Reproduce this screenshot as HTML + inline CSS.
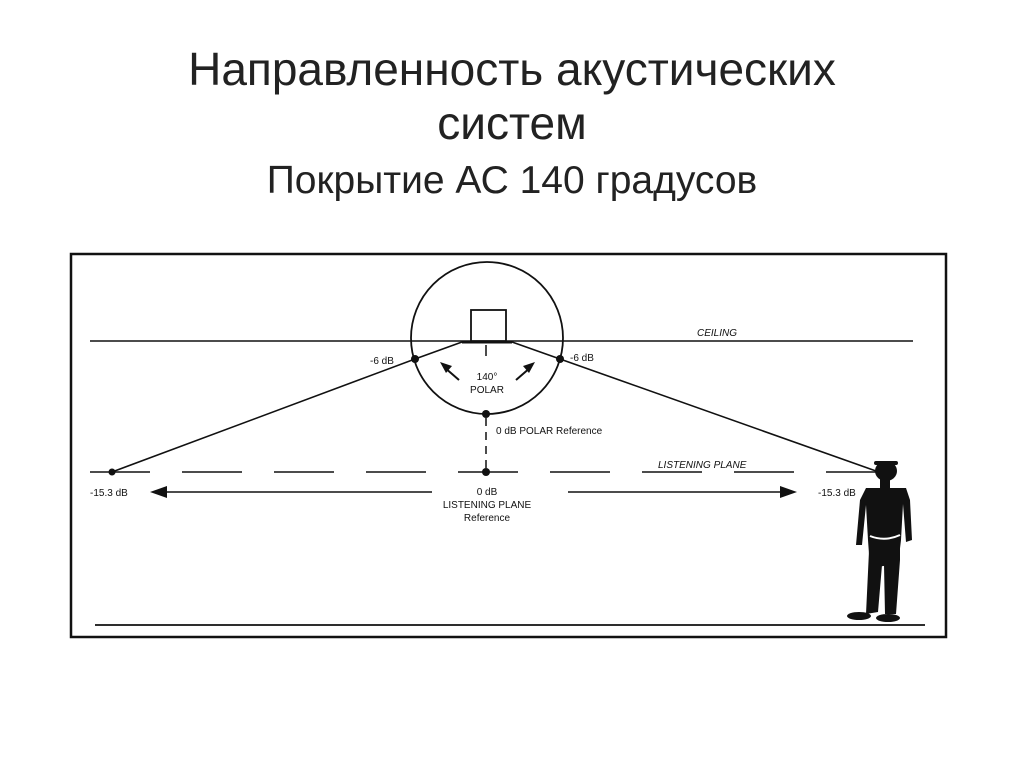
<!DOCTYPE html>
<html><head><meta charset="utf-8"><style>
body{margin:0;background:#fff;width:1024px;height:767px;overflow:hidden;font-family:"Liberation Sans",sans-serif}
.t{position:absolute;width:1024px;text-align:center;color:#222;line-height:1}
</style></head><body>
<div class="t" style="top:46px;font-size:46px;">Направленность акустических</div>
<div class="t" style="top:100px;font-size:46px;">систем</div>
<div class="t" style="top:161px;font-size:39px;">Покрытие АС 140 градусов</div>
<svg width="1024" height="767" style="position:absolute;left:0;top:0" font-family="Liberation Sans, sans-serif">
<rect x="71" y="254" width="875" height="383" fill="none" stroke="#111" stroke-width="2.5"/>
<line x1="90" y1="341" x2="913" y2="341" stroke="#111" stroke-width="1.5"/>
<text x="697" y="336" font-size="10" font-style="italic" fill="#111">CEILING</text>
<circle cx="487" cy="338" r="76" fill="none" stroke="#111" stroke-width="1.8"/>
<rect x="471" y="310" width="35" height="31" fill="#fff" stroke="#111" stroke-width="1.8"/>
<line x1="462" y1="342" x2="512" y2="342" stroke="#111" stroke-width="3"/>
<polyline points="112,472 415,359 462,342" fill="none" stroke="#111" stroke-width="1.6"/>
<polyline points="876,471 560,359 512,342" fill="none" stroke="#111" stroke-width="1.6"/>
<circle cx="415" cy="359" r="4" fill="#111"/><circle cx="560" cy="359" r="4" fill="#111"/>
<circle cx="486" cy="414" r="4" fill="#111"/><circle cx="486" cy="472" r="4" fill="#111"/>
<circle cx="112" cy="472" r="3.5" fill="#111"/>
<text x="370" y="364" font-size="10" fill="#111">-6 dB</text>
<text x="570" y="361" font-size="10" fill="#111">-6 dB</text>
<line x1="486" y1="345" x2="486" y2="356" stroke="#111" stroke-width="1.5"/>
<line x1="486" y1="418" x2="486" y2="470" stroke="#111" stroke-width="1.5" stroke-dasharray="8,6"/>
<line x1="459" y1="380" x2="444" y2="367" stroke="#111" stroke-width="2"/>
<polygon points="440,362 452,366 446,373" fill="#111"/>
<line x1="516" y1="380" x2="531" y2="367" stroke="#111" stroke-width="2"/>
<polygon points="535,362 523,366 529,373" fill="#111"/>
<text x="487" y="380" font-size="10" fill="#111" text-anchor="middle">140°</text>
<text x="487" y="393" font-size="10" fill="#111" text-anchor="middle">POLAR</text>
<text x="496" y="434" font-size="10" fill="#111">0 dB POLAR Reference</text>
<line x1="90" y1="472" x2="878" y2="472" stroke="#111" stroke-width="1.6" stroke-dasharray="60,32"/>
<text x="658" y="468" font-size="10" font-style="italic" fill="#111">LISTENING PLANE</text>
<line x1="160" y1="492" x2="432" y2="492" stroke="#111" stroke-width="1.5"/>
<line x1="568" y1="492" x2="785" y2="492" stroke="#111" stroke-width="1.5"/>
<polygon points="150,492 167,486 167,498" fill="#111"/>
<polygon points="797,492 780,486 780,498" fill="#111"/>
<text x="487" y="495" font-size="10" fill="#111" text-anchor="middle">0 dB</text>
<text x="487" y="508" font-size="10" fill="#111" text-anchor="middle">LISTENING PLANE</text>
<text x="487" y="521" font-size="10" fill="#111" text-anchor="middle">Reference</text>
<text x="90" y="496" font-size="10" fill="#111">-15.3 dB</text>
<text x="818" y="496" font-size="10" fill="#111">-15.3 dB</text>
<line x1="95" y1="625" x2="925" y2="625" stroke="#111" stroke-width="1.8"/>
<g fill="#111">
<ellipse cx="886" cy="471" rx="11" ry="10"/>
<rect x="874" y="461" width="24" height="4" rx="2"/>
<path d="M866 488 L906 488 L910 500 L912 540 L906 542 L903 504 L901 540 L898 565 L890 565 L870 568 L868 540 L866 505 L862 545 L856 545 L860 500 Z"/>
<path d="M870 530 L900 530 L900 560 L896 614 L885 614 L884 565 L882 565 L878 612 L866 614 Z"/>
<ellipse cx="859" cy="616" rx="12" ry="4"/>
<ellipse cx="888" cy="618" rx="12" ry="4"/>
<rect x="880" y="479" width="10" height="10"/>
</g>
<path d="M870 536 Q885 542 900 535" stroke="#fff" stroke-width="2" fill="none"/>
</svg>
</body></html>
